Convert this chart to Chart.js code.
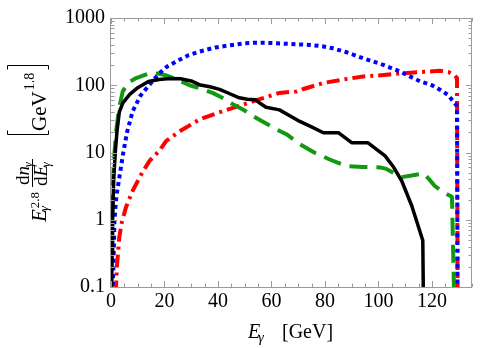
<!DOCTYPE html>
<html>
<head>
<meta charset="utf-8">
<script src="https://cdn.jsdelivr.net/npm/chart.js@4.4.0/dist/chart.umd.min.js"></script>
<style>
html, body { margin: 0; padding: 0; background: #fff; }
</style>
</head>
<body>
<canvas id="myChart" width="481" height="349"></canvas>
<script>
// photon energy grids and spectra
var blackE = [0.2, 0.4, 0.6, 1.0, 1.6, 2.2, 3.1, 4.5, 7, 10, 14, 18, 22, 26, 30, 33, 37, 40.6, 44, 48, 51, 54, 56, 58, 63, 67, 70.6, 75, 79.4, 85, 90, 96, 102.5, 105.5, 108.7, 112.5, 116.6, 116.8]
var blackY = [0.08, 0.3, 1, 4, 10, 20, 40, 55, 73, 92, 114, 122, 126, 125, 116, 102, 95, 87, 76, 65, 62, 61, 53, 47, 43, 35, 29, 24, 19.7, 19.7, 14, 14, 8.9, 6.2, 3.8, 1.6, 0.49, 0.08]

var blueE = [0.6, 1.0, 1.3, 2, 3.1, 4.6, 6, 8.1, 11, 14.4, 18.1, 21, 25.6, 29, 33.1, 39, 45.6, 50, 54.4, 60, 65, 69.4, 74.4, 79, 83, 88, 94.3, 101.8, 108, 115.6, 120, 123, 126, 129.4, 129.6]
var blueY = [0.08, 0.3, 1, 2.2, 4.2, 10, 20, 41, 70, 102, 151, 190, 239, 280, 317, 365, 398, 420, 430, 425, 415, 406, 398, 380, 354, 310, 252, 201, 160, 114, 100, 86, 72, 49, 0.08]

var greenE = [0.1, 0.4, 0.9, 1.3, 2, 3, 4.4, 6.5, 9.4, 14.4, 18, 20.6, 25, 29.4, 34, 38, 42, 45.6, 50, 53, 58, 62, 65.6, 70.6, 76, 82, 88, 94, 100.6, 103, 106, 108.7, 113, 116.9, 119, 121, 124, 127.5, 128.3]
var greenY = [0.08, 1, 5, 10, 22, 45, 81, 110, 128, 151, 148, 140, 120, 100, 88, 77, 64, 52, 42, 35, 27, 22, 18.7, 13.3, 10, 7.8, 6.3, 6.1, 6.0, 5.7, 4.9, 4.3, 4.6, 4.9, 4.0, 3.2, 2.6, 2.2, 0.08]

var redE = [1.8, 2.2, 3.1, 4, 5.6, 8.1, 11, 14.4, 18.1, 20.6, 26, 33.1, 40, 45.6, 54.4, 63, 69.4, 72, 79.4, 87, 94.3, 102, 109.3, 116, 123, 126.2, 128.5, 129.4, 129.6]
var redY = [0.08, 0.2, 0.55, 0.9, 1.53, 2.7, 4.5, 7.5, 10.6, 14.8, 21, 31, 39, 46, 60, 77, 81, 88, 108, 122, 135, 142, 151, 157, 164, 157, 140, 128, 0.08]

var xTicks = [0, 20, 40, 60, 80, 100, 120]
var xTickLabels = ['0', '20', '40', '60', '80', '100', '120']
var yTicks = [0.1, 1, 10, 100, 1000]
var yTickLabels = ['0.1', '1', '10', '100', '1000']

var fontFam = '"Liberation Serif", "Times New Roman", serif'

function pts(xs, ys) {
	return xs.map(function(x, i) { return { x: x, y: ys[i] } })
}

function txt(ctx, t, u, v, size, italic) {
	ctx.font = (italic ? 'italic ' : '') + size + 'px ' + fontFam
	ctx.fillText(t, u, v)
	return ctx.measureText(t).width
}

/* frame, inward ticks, axis titles */
var framePlugin = {
	id: 'frame',
	afterDatasetsDraw: function(chart) {
		var ctx = chart.ctx
		var a = chart.chartArea
		var xs = chart.scales.x
		var ys = chart.scales.y
		ctx.save()
		ctx.strokeStyle = '#9a9a9a'
		ctx.lineWidth = 1
		ctx.strokeRect(a.left - 0.5, a.top + 0.5, a.right - a.left, a.bottom - a.top)

		ctx.beginPath()
		for (var v = 0; v <= 135; v += 5) {
			var px = Math.round(xs.getPixelForValue(v)) + 0.5
			var len = (v % 20 === 0) ? 6 : 3.5
			ctx.moveTo(px, a.bottom); ctx.lineTo(px, a.bottom - len)
			ctx.moveTo(px, a.top); ctx.lineTo(px, a.top + len)
		}
		for (var d = -1; d < 3; d++) {
			for (var m = 1; m < 10; m++) {
				var val = m * Math.pow(10, d)
				var py = Math.round(ys.getPixelForValue(val)) + 0.5
				var l2 = m === 1 ? 6 : 3.5
				ctx.moveTo(a.left, py); ctx.lineTo(a.left + l2, py)
				ctx.moveTo(a.right, py); ctx.lineTo(a.right - l2, py)
			}
		}
		ctx.stroke()
		ctx.restore()

		// x title
		ctx.save()
		ctx.fillStyle = '#000'
		ctx.textBaseline = 'alphabetic'
		ctx.textAlign = 'left'
		var wE = txt(ctx, 'E', 248, 338, 20, true)
		txt(ctx, 'γ', 248 + wE - 2, 342, 14, true)
		txt(ctx, '[GeV]', 282, 338, 20, false)
		ctx.restore()

		// y title, rotated; u runs up the page, v runs to the right
		ctx.save()
		ctx.fillStyle = '#000'
		ctx.strokeStyle = '#000'
		ctx.textBaseline = 'alphabetic'
		ctx.textAlign = 'left'
		ctx.translate(46, 222)
		ctx.rotate(-Math.PI / 2)
		var e = txt(ctx, 'E', 0, 0, 21, true)
		txt(ctx, 'γ', e - 2, 2, 13, true)
		txt(ctx, '2.8', e + 1, -7, 13, false)

		// fraction d n_γ / d E_γ
		var u = 35
		var W = 28
		ctx.fillRect(u, -14, W, 1)
		var k = txt(ctx, 'd', u + 2, -17, 19, false)
		k += txt(ctx, 'n', u + 2 + k, -17, 19, true)
		txt(ctx, 'γ', u + 2 + k - 1, -14, 12, true)
		k = txt(ctx, 'd', u + 1, 1, 19, false)
		k += txt(ctx, 'E', u + 1 + k, 1, 19, true)
		txt(ctx, 'γ', u + 1 + k - 2, 4, 12, true)

		// [GeV^1.8]
		ctx.lineWidth = 1
		ctx.beginPath()
		ctx.moveTo(91.5, -38.5); ctx.lineTo(87.5, -38.5); ctx.lineTo(87.5, 2.5); ctx.lineTo(91.5, 2.5)
		ctx.stroke()
		var g = txt(ctx, 'GeV', 91, 0, 21, false)
		txt(ctx, '1.8', 91 + g + 1, -12, 14, false)
		ctx.beginPath()
		ctx.moveTo(152.5, -38.5); ctx.lineTo(156.5, -38.5); ctx.lineTo(156.5, 2.5); ctx.lineTo(152.5, 2.5)
		ctx.stroke()
		ctx.restore()
	}
}

var ctx = document.getElementById('myChart').getContext('2d')
var chart = new Chart(ctx, {
	type: 'line',
	data: {
		datasets: [{
			data: pts(blackE, blackY),
			borderColor: '#000000',
			borderWidth: 3.5
		}, {
			data: pts(blueE, blueY),
			borderColor: '#0000ff',
			borderWidth: 4,
			borderDash: [4, 3.7]
		}, {
			data: pts(greenE, greenY),
			borderColor: '#119911',
			borderWidth: 4,
			borderDash: [18, 9]
		}, {
			data: pts(redE, redY),
			borderColor: '#ff0000',
			borderWidth: 4,
			borderDash: [13, 5, 3, 5]
		}]
	},
	options: {
		responsive: false,
		animation: false,
		maintainAspectRatio: false,
		layout: { padding: { left: 0, top: 15, right: 9, bottom: 0 } },
		elements: {
			point: { radius: 0 },
			line: { tension: 0, borderCapStyle: 'butt', borderJoinStyle: 'round', fill: false }
		},
		datasets: { line: { clip: 0 } },
		plugins: { legend: { display: false }, tooltip: { enabled: false } },
		scales: {
			x: {
				type: 'linear', min: 0, max: 135,
				grid: { display: false, drawTicks: false },
				border: { display: false },
				afterBuildTicks: function(s) { s.ticks = xTicks.map(function(v) { return { value: v } }) },
				afterFit: function(s) { s.height = 62 },
				ticks: {
					autoSkip: false, maxRotation: 0, padding: 3, color: '#000',
					font: { family: fontFam, size: 20 },
					callback: function(v, i) { return xTickLabels[i] }
				}
			},
			y: {
				type: 'logarithmic', min: 0.1, max: 1000,
				grid: { display: false, drawTicks: false },
				border: { display: false },
				afterBuildTicks: function(s) { s.ticks = yTicks.map(function(v) { return { value: v } }) },
				afterFit: function(s) { s.width = 111 },
				ticks: {
					autoSkip: false, padding: 6, color: '#000',
					font: { family: fontFam, size: 20 },
					callback: function(v, i) { return yTickLabels[i] }
				}
			}
		}
	},
	plugins: [framePlugin]
})
</script>
</body>
</html>
